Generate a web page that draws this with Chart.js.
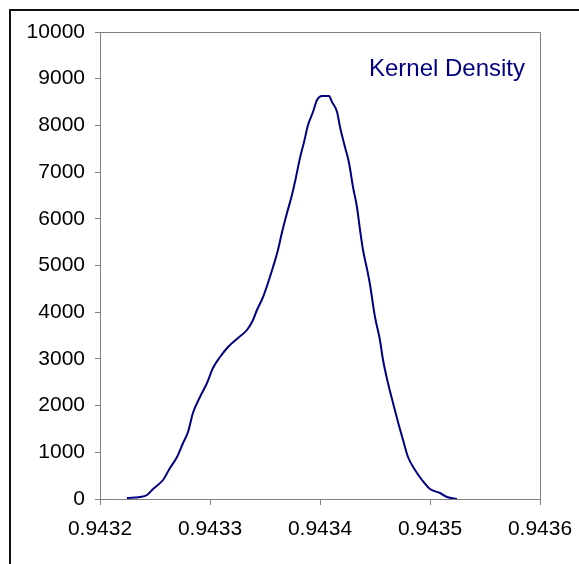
<!DOCTYPE html>
<html>
<head>
<meta charset="utf-8">
<script src="https://cdn.jsdelivr.net/npm/chart.js@4"></script>
<style>
  html, body { margin: 0; padding: 0; background: #fff; overflow: hidden; }
  #frame { position: absolute; left: 9px; top: 9px; width: 700px; height: 700px;
           border-left: 2px solid #111; border-top: 2px solid #111; }
  #wrap { position: absolute; left: 0; top: 0; width: 579px; height: 564px; }
</style>
</head>
<body>
<div id="frame"></div>
<div id="wrap"><canvas id="densityChart" width="579" height="564"></canvas></div>
<script>
// data
const seriesLabel = "Kernel Density";
const xValues = [
  0.9432245, 0.9432364, 0.9432427, 0.9432482, 0.9432573, 0.9432636, 0.9432700,
  0.9432755, 0.9432800, 0.9432845, 0.9432909, 0.9432973, 0.9433027, 0.9433091,
  0.9433164, 0.9433255, 0.9433336, 0.9433391, 0.9433427, 0.9433482, 0.9433527,
  0.9433573, 0.9433618, 0.9433655, 0.9433700, 0.9433745, 0.9433782, 0.9433818,
  0.9433855, 0.9433891, 0.9433936, 0.9433973, 0.9434018, 0.9434082, 0.9434109,
  0.9434155, 0.9434182, 0.9434227, 0.9434264, 0.9434300, 0.9434336, 0.9434364,
  0.9434391, 0.9434427, 0.9434455, 0.9434500, 0.9434545, 0.9434573, 0.9434618,
  0.9434664, 0.9434709, 0.9434755, 0.9434800, 0.9434864, 0.9434927, 0.9435000,
  0.9435091, 0.9435155, 0.9435245
];
const densities = [
  20, 43, 86, 214, 407, 664, 899,
  1199, 1435, 1842, 2184, 2484, 2805, 3041,
  3255, 3448, 3619, 3833, 4047, 4325, 4625,
  4968, 5332, 5717, 6124, 6510, 6895, 7302,
  7644, 8008, 8287, 8544, 8629, 8629, 8501,
  8287, 7966, 7537, 7195, 6681, 6253, 5760,
  5332, 4930, 4582, 3897, 3405, 2976, 2484,
  2056, 1649, 1263, 899, 621, 407, 214,
  128, 43, 0
];
const xTicks = [0.9432, 0.9433, 0.9434, 0.9435, 0.9436];
const yTicks = [0, 1000, 2000, 3000, 4000, 5000, 6000, 7000, 8000, 9000, 10000];

const points = xValues.map((x, i) => ({ x: x, y: densities[i] }));

// gray box round the plot area + the series name in the top right corner
const plotFrame = {
  id: "plotFrame",
  afterDraw(chart) {
    const ctx = chart.ctx;
    const a = chart.chartArea;
    ctx.save();
    ctx.strokeStyle = "#808080";
    ctx.lineWidth = 1;
    ctx.beginPath();
    ctx.moveTo(a.left, a.top + 0.5);
    ctx.lineTo(a.right + 0.5, a.top + 0.5);
    ctx.lineTo(a.right + 0.5, a.bottom);
    ctx.stroke();
    ctx.fillStyle = "#000080";
    ctx.font = "24px 'Liberation Sans', Arial, sans-serif";
    ctx.textAlign = "right";
    ctx.textBaseline = "alphabetic";
    ctx.fillText(seriesLabel, a.right - 15, 76);
    ctx.restore();
  }
};

const ctx = document.getElementById("densityChart").getContext("2d");
new Chart(ctx, {
  type: "line",
  data: {
    datasets: [{
      label: seriesLabel,
      data: points,
      borderColor: "#000080",
      borderWidth: 2,
      pointRadius: 0,
      fill: false,
      cubicInterpolationMode: "monotone"
    }]
  },
  options: {
    responsive: false,
    animation: false,
    devicePixelRatio: 1,
    layout: { padding: { left: 0, top: 32, right: 39, bottom: 0 } },
    plugins: { legend: { display: false }, tooltip: { enabled: false } },
    scales: {
      x: {
        type: "linear",
        min: xTicks[0],
        max: xTicks[xTicks.length - 1],
        afterBuildTicks: (scale) => { scale.ticks = xTicks.map(v => ({ value: v })); },
        afterFit: (scale) => {
          scale.height = 65;
          scale.paddingLeft = 0;
          scale.paddingRight = 0;
        },
        grid: { drawOnChartArea: false, tickLength: 6, color: "#808080" },
        border: { color: "#808080", width: 1 },
        ticks: {
          color: "#000",
          padding: 12,
          maxRotation: 0,
          font: { family: "'Liberation Sans', Arial, sans-serif", size: 21 },
          callback: (v) => Number(v).toFixed(4)
        }
      },
      y: {
        min: yTicks[0],
        max: yTicks[yTicks.length - 1],
        afterBuildTicks: (scale) => { scale.ticks = yTicks.map(v => ({ value: v })); },
        afterFit: (scale) => { scale.width = 100; },
        grid: { drawOnChartArea: false, tickLength: 5, color: "#808080" },
        border: { color: "#808080", width: 1 },
        ticks: {
          color: "#000",
          padding: 10,
          font: { family: "'Liberation Sans', Arial, sans-serif", size: 21 },
          callback: (v) => String(v)
        }
      }
    }
  },
  plugins: [plotFrame]
});
</script>
</body>
</html>
